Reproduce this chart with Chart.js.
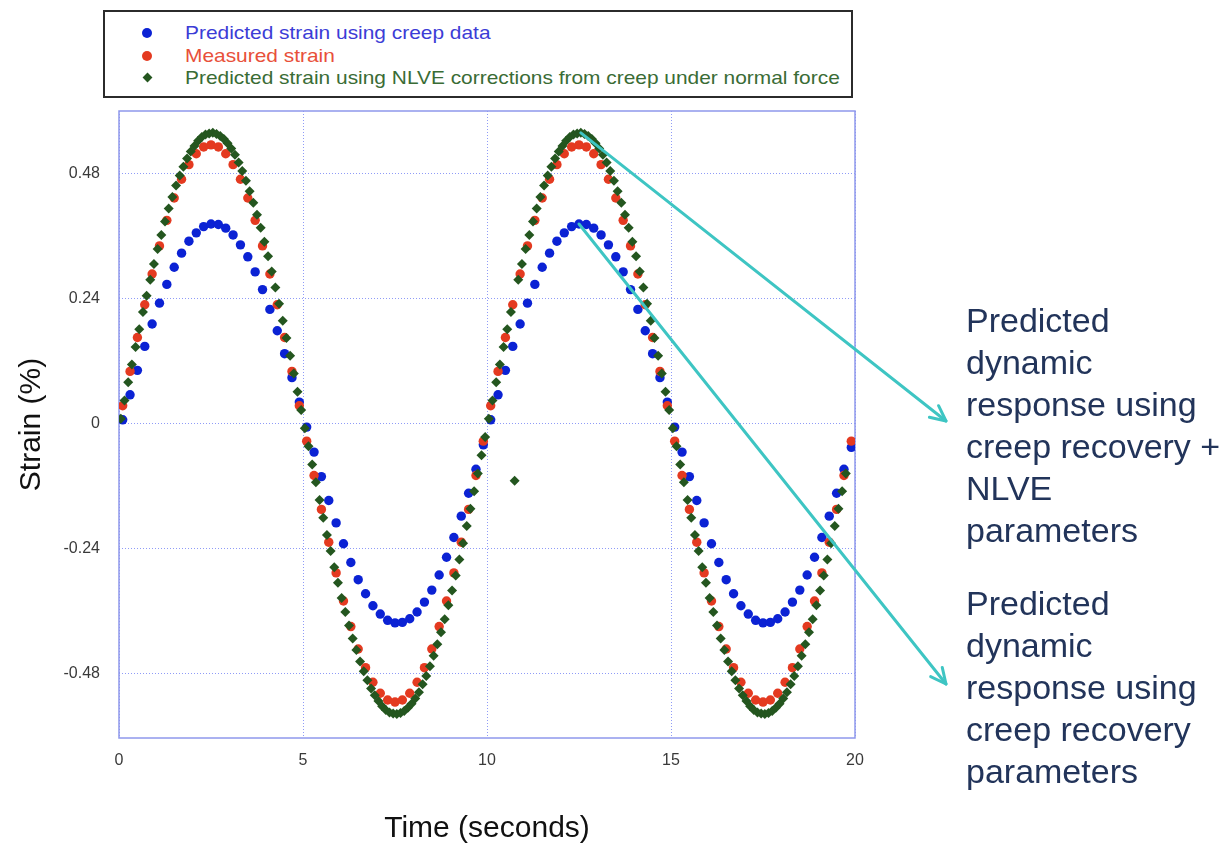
<!DOCTYPE html>
<html>
<head>
<meta charset="utf-8">
<script src="https://cdn.jsdelivr.net/npm/chart.js@4.4.1/dist/chart.umd.min.js"></script>
<style>
html,body{margin:0;padding:0;background:#fff;}
#wrap{position:relative;width:1231px;height:848px;overflow:hidden;font-family:"Liberation Sans",Arial,sans-serif;}
#c{position:absolute;left:0;top:0;}
#legend{position:absolute;left:103px;top:10px;width:746px;height:84px;border:2px solid #2b2b2b;background:#fff;}
.item{position:absolute;left:0;width:740px;height:22px;}
.mk{position:absolute;top:6px;width:10px;height:10px;border-radius:50%;}
.mk.dia{border-radius:0;width:7px;height:7px;top:7px;transform:rotate(45deg);}
.txt{position:absolute;left:80px;top:0;font-size:19px;line-height:22px;white-space:nowrap;transform:scaleX(1.1);transform-origin:left center;}
.note{position:absolute;left:966px;font-size:34px;line-height:42px;color:#22345a;white-space:nowrap;}
</style>
</head>
<body>
<div id="wrap">
<canvas id="c" width="1231" height="848"></canvas>
<div id="legend"></div>
<div class="note" style="top:299px">Predicted<br>dynamic<br>response using<br>creep recovery +<br>NLVE<br>parameters</div>
<div class="note" style="top:582px">Predicted<br>dynamic<br>response using<br>creep recovery<br>parameters</div>
</div>
<script>
// ---------- data ----------
const seriesLabels = [
  "Predicted strain using creep data",
  "Measured strain",
  "Predicted strain using NLVE corrections from creep under normal force"
];
const xTickStep = 5;
const yTickValues = [-0.48, -0.24, 0, 0.24, 0.48];
const yTickLabels = ["-0.48", "-0.24", "0", "0.24", "0.48"];

// time (s) for creep-prediction and measured series
const timeCoarse = [
  0.1,0.3,0.5,0.7,0.9,1.1,1.3,1.5,1.7,1.9,
  2.1,2.3,2.5,2.7,2.9,3.1,3.3,3.5,3.7,3.9,
  4.1,4.3,4.5,4.7,4.9,5.1,5.3,5.5,5.7,5.9,
  6.1,6.3,6.5,6.7,6.9,7.1,7.3,7.5,7.7,7.9,
  8.1,8.3,8.5,8.7,8.9,9.1,9.3,9.5,9.7,9.9,
  10.1,10.3,10.5,10.7,10.9,11.1,11.3,11.5,11.7,11.9,
  12.1,12.3,12.5,12.7,12.9,13.1,13.3,13.5,13.7,13.9,
  14.1,14.3,14.5,14.7,14.9,15.1,15.3,15.5,15.7,15.9,
  16.1,16.3,16.5,16.7,16.9,17.1,17.3,17.5,17.7,17.9,
  18.1,18.3,18.5,18.7,18.9,19.1,19.3,19.5,19.7,19.9
];
const strainCreep = [
  0.007,0.055,0.102,0.148,0.191,0.231,0.267,0.300,0.327,0.350,0.366,0.378,0.383,0.382,0.375,0.362,0.343,0.320,0.291,0.257,0.219,0.178,0.134,0.088,0.041,
  -0.007,-0.055,-0.102,-0.148,-0.191,-0.231,-0.267,-0.300,-0.327,-0.350,-0.366,-0.378,-0.383,-0.382,-0.375,-0.362,-0.343,-0.320,-0.291,-0.257,-0.219,-0.178,-0.134,-0.088,-0.041,
  0.007,0.055,0.102,0.148,0.191,0.231,0.267,0.300,0.327,0.350,0.366,0.378,0.383,0.382,0.375,0.362,0.343,0.320,0.291,0.257,0.219,0.178,0.134,0.088,0.041,
  -0.007,-0.055,-0.102,-0.148,-0.191,-0.231,-0.267,-0.300,-0.327,-0.350,-0.366,-0.378,-0.383,-0.382,-0.375,-0.362,-0.343,-0.320,-0.291,-0.257,-0.219,-0.178,-0.134,-0.088,-0.046
];
const strainMeasured = [
  0.034,0.100,0.165,0.228,0.287,0.341,0.390,0.433,0.469,0.497,0.518,0.531,0.535,0.531,0.518,0.497,0.469,0.433,0.390,0.341,0.287,0.228,0.165,0.100,0.034,
  -0.034,-0.100,-0.165,-0.228,-0.287,-0.341,-0.390,-0.433,-0.469,-0.497,-0.518,-0.531,-0.535,-0.531,-0.518,-0.497,-0.469,-0.433,-0.390,-0.341,-0.287,-0.228,-0.165,-0.100,-0.034,
  0.034,0.100,0.165,0.228,0.287,0.341,0.390,0.433,0.469,0.497,0.518,0.531,0.535,0.531,0.518,0.497,0.469,0.433,0.390,0.341,0.287,0.228,0.165,0.100,0.034,
  -0.034,-0.100,-0.165,-0.228,-0.287,-0.341,-0.390,-0.433,-0.469,-0.497,-0.518,-0.531,-0.535,-0.531,-0.518,-0.497,-0.469,-0.433,-0.390,-0.341,-0.287,-0.228,-0.165,-0.100,-0.034
];

// time (s) for NLVE-corrected prediction
const timeFine = [
  0.05,0.15,0.25,0.35,0.45,0.55,0.65,0.75,0.85,0.95,
  1.05,1.15,1.25,1.35,1.45,1.55,1.65,1.75,1.85,1.95,
  2.05,2.15,2.25,2.35,2.45,2.55,2.65,2.75,2.85,2.95,
  3.05,3.15,3.25,3.35,3.45,3.55,3.65,3.75,3.85,3.95,
  4.05,4.15,4.25,4.35,4.45,4.55,4.65,4.75,4.85,4.95,
  5.05,5.15,5.25,5.35,5.45,5.55,5.65,5.75,5.85,5.95,
  6.05,6.15,6.25,6.35,6.45,6.55,6.65,6.75,6.85,6.95,
  7.05,7.15,7.25,7.35,7.45,7.55,7.65,7.75,7.85,7.95,
  8.05,8.15,8.25,8.35,8.45,8.55,8.65,8.75,8.85,8.95,
  9.05,9.15,9.25,9.35,9.45,9.55,9.65,9.75,9.85,9.95,
  10.05,10.15,10.25,10.35,10.45,10.55,10.65,10.75,10.85,10.95,
  11.05,11.15,11.25,11.35,11.45,11.55,11.65,11.75,11.85,11.95,
  12.05,12.15,12.25,12.35,12.45,12.55,12.65,12.75,12.85,12.95,
  13.05,13.15,13.25,13.35,13.45,13.55,13.65,13.75,13.85,13.95,
  14.05,14.15,14.25,14.35,14.45,14.55,14.65,14.75,14.85,14.95,
  15.05,15.15,15.25,15.35,15.45,15.55,15.65,15.75,15.85,15.95,
  16.05,16.15,16.25,16.35,16.45,16.55,16.65,16.75,16.85,16.95,
  17.05,17.15,17.25,17.35,17.45,17.55,17.65,17.75,17.85,17.95,
  18.05,18.15,18.25,18.35,18.45,18.55,18.65,18.75,18.85,18.95,
  19.05,19.15,19.25,19.35,19.45,19.55,19.65,19.75
];
const strainNLVE = [
  0.009,0.044,0.079,0.113,0.147,0.181,0.214,0.245,0.276,0.306,0.335,0.362,0.388,0.413,0.435,0.457,0.476,0.493,0.509,0.522,0.533,0.543,0.550,0.555,0.557,
  0.558,0.556,0.552,0.546,0.538,0.528,0.516,0.501,0.485,0.466,0.446,0.424,0.401,0.376,0.349,0.321,0.292,0.261,0.230,0.197,0.164,0.130,0.096,0.061,0.026,
  -0.009,-0.044,-0.079,-0.113,-0.147,-0.181,-0.214,-0.245,-0.276,-0.306,-0.335,-0.362,-0.388,-0.413,-0.435,-0.457,-0.476,-0.493,-0.509,-0.522,-0.533,-0.543,-0.550,-0.555,-0.557,
  -0.558,-0.556,-0.552,-0.546,-0.538,-0.528,-0.516,-0.501,-0.485,-0.466,-0.446,-0.424,-0.401,-0.376,-0.349,-0.321,-0.292,-0.261,-0.230,-0.197,-0.164,-0.130,-0.096,-0.061,-0.026,
  0.009,0.044,0.079,0.113,0.147,0.181,0.214,-0.110,0.276,0.306,0.335,0.362,0.388,0.413,0.435,0.457,0.476,0.493,0.509,0.522,0.533,0.543,0.550,0.555,0.557,
  0.558,0.556,0.552,0.546,0.538,0.528,0.516,0.501,0.485,0.466,0.446,0.424,0.401,0.376,0.349,0.321,0.292,0.261,0.230,0.197,0.164,0.130,0.096,0.061,0.026,
  -0.009,-0.044,-0.079,-0.113,-0.147,-0.181,-0.214,-0.245,-0.276,-0.306,-0.335,-0.362,-0.388,-0.413,-0.435,-0.457,-0.476,-0.493,-0.509,-0.522,-0.533,-0.543,-0.550,-0.555,-0.557,
  -0.558,-0.556,-0.552,-0.546,-0.538,-0.528,-0.516,-0.501,-0.485,-0.466,-0.446,-0.424,-0.401,-0.376,-0.349,-0.321,-0.292,-0.261,-0.230,-0.197,-0.164,-0.130,-0.096
];

// annotation arrows start at these points of the data (series index, point index)
const arrowSources = [ {series: 2, point: 125}, {series: 0, point: 62} ];

// ---------- styling ----------
const colors = ["#0b22d4", "#e43a20", "#24561f"];
const textColors = ["#3c3cd6", "#e8503a", "#3a6c35"];
const pointStyles = ["circle", "circle", "rectRot"];
const arrowTips = [ {x: 946, y: 421}, {x: 946, y: 684} ];

Chart.defaults.font.family = '"Liberation Sans", Arial, sans-serif';

function pts(xs, ys){ return xs.map((x,i)=>({x:x, y:ys[i]})); }

const framePlugin = {
  id: 'frame',
  beforeDatasetsDraw(chart){
    const {ctx, chartArea:a} = chart;
    ctx.save();
    ctx.strokeStyle = '#8f98ec';
    ctx.lineWidth = 1.5;
    ctx.strokeRect(a.left, a.top, a.right - a.left, a.bottom - a.top);
    ctx.restore();
  }
};

const arrowPlugin = {
  id: 'arrows',
  afterDatasetsDraw(chart){
    const {ctx} = chart;
    ctx.save();
    ctx.strokeStyle = '#3ec5c3';
    ctx.lineWidth = 3;
    ctx.lineCap = 'round';
    ctx.lineJoin = 'round';
    arrowSources.forEach((src, i) => {
      const el = chart.getDatasetMeta(src.series).data[src.point];
      const x0 = el.x, y0 = el.y;
      const tip = arrowTips[i];
      const ang = Math.atan2(tip.y - y0, tip.x - x0);
      ctx.beginPath();
      ctx.moveTo(x0, y0);
      ctx.lineTo(tip.x, tip.y);
      ctx.stroke();
      const L = 17, spread = 0.45;
      ctx.beginPath();
      ctx.moveTo(tip.x - L*Math.cos(ang - spread), tip.y - L*Math.sin(ang - spread));
      ctx.lineTo(tip.x, tip.y);
      ctx.lineTo(tip.x - L*Math.cos(ang + spread), tip.y - L*Math.sin(ang + spread));
      ctx.stroke();
    });
    ctx.restore();
  }
};

const datasets = [
  {label: seriesLabels[0], data: pts(timeCoarse, strainCreep), pointStyle: pointStyles[0],
   pointRadius: 4.7, backgroundColor: colors[0], borderColor: colors[0], borderWidth: 0, order: 3},
  {label: seriesLabels[1], data: pts(timeCoarse, strainMeasured), pointStyle: pointStyles[1],
   pointRadius: 4.7, backgroundColor: colors[1], borderColor: colors[1], borderWidth: 0, order: 2},
  {label: seriesLabels[2], data: pts(timeFine, strainNLVE), pointStyle: pointStyles[2],
   pointRadius: 5, backgroundColor: colors[2], borderColor: colors[2], borderWidth: 0, order: 1}
];

const gridColor = 'rgba(115,130,245,0.8)';

new Chart(document.getElementById('c'), {
  type: 'scatter',
  data: {datasets},
  options: {
    responsive: false,
    animation: false,
    devicePixelRatio: 1,
    layout: {padding: {left: 0, top: 111, right: 376, bottom: 0}},
    plugins: {legend: {display: false}, tooltip: {enabled: false}},
    scales: {
      x: {
        type: 'linear', min: 0, max: 20,
        afterFit: s => { s.height = 110; },
        ticks: {stepSize: xTickStep, color: '#3a3a3a', font: {size: 16}, padding: 13},
        grid: {color: gridColor, lineWidth: 1, drawTicks: false},
        border: {display: false, dash: [1, 2]},
        title: {display: true, text: 'Time (seconds)', color: '#111', font: {size: 30}, padding: {top: 0, bottom: 1}}
      },
      y: {
        type: 'linear', min: -0.604, max: 0.6,
        afterFit: s => { s.width = 119; },
        afterBuildTicks: s => { s.ticks = yTickValues.map(v => ({value: v})); },
        ticks: {color: '#3a3a3a', font: {size: 16}, padding: 19,
                callback: (v, i) => yTickLabels[i]},
        grid: {color: gridColor, lineWidth: 1, drawTicks: false},
        border: {display: false, dash: [1, 2]},
        title: {display: true, text: 'Strain (%)', color: '#111', font: {size: 30}, padding: {top: 14, bottom: 0}}
      }
    }
  },
  plugins: [framePlugin, arrowPlugin]
});

// legend built from the dataset labels
const legendEl = document.getElementById('legend');
const rowCenters = [21, 44, 66];
seriesLabels.forEach((lab, i) => {
  const item = document.createElement('div');
  item.className = 'item';
  item.style.top = (rowCenters[i] - 11) + 'px';
  const mk = document.createElement('div');
  mk.className = 'mk' + (pointStyles[i] === 'rectRot' ? ' dia' : '');
  mk.style.background = colors[i];
  mk.style.left = (pointStyles[i] === 'rectRot' ? 39 : 37) + 'px';
  const tx = document.createElement('div');
  tx.className = 'txt';
  tx.style.color = textColors[i];
  tx.textContent = lab;
  item.appendChild(mk); item.appendChild(tx);
  legendEl.appendChild(item);
});
</script>
</body>
</html>
